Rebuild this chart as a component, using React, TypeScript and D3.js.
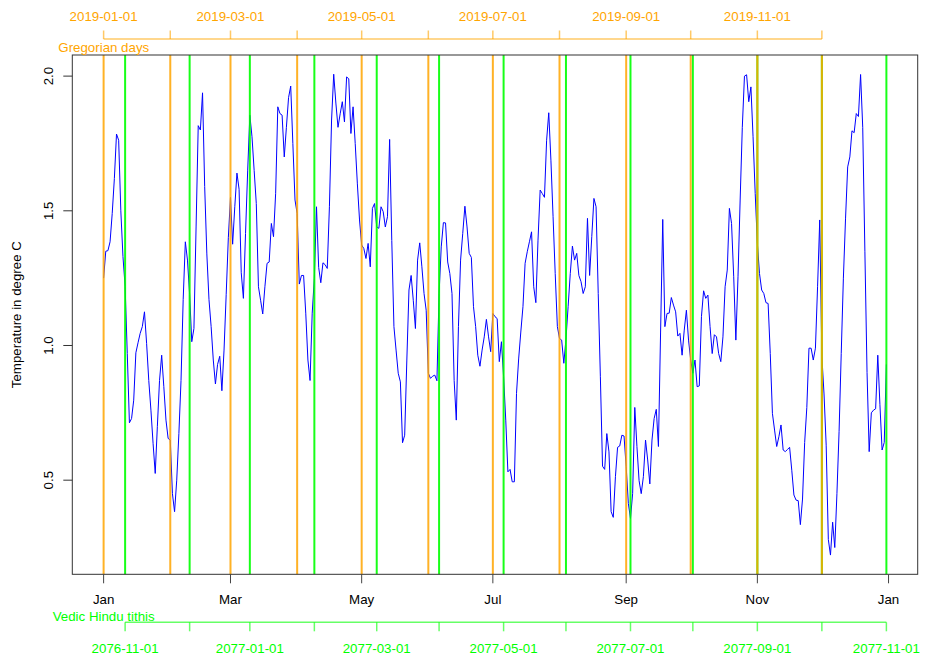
import React from "react";
import * as d3 from "d3";

// Daily temperature values (degree C), 2019-01-01 .. 2019-12-31
const temps: number[] = [
  1.25, 1.35, 1.352, 1.385, 1.49, 1.62, 1.785, 1.762, 1.5, 1.33,
  1.22, 0.97, 0.713, 0.729, 0.797, 0.973, 1.01, 1.045, 1.07, 1.125,
  1.007, 0.87, 0.76, 0.637, 0.525, 0.7, 0.87, 0.964, 0.847, 0.723,
  0.655, 0.649, 0.45, 0.383, 0.5, 0.673, 0.87, 1.17, 1.385, 1.317,
  1.19, 1.014, 1.063, 1.44, 1.816, 1.8, 1.938, 1.59, 1.34, 1.17,
  1.07, 0.946, 0.857, 0.93, 0.96, 0.832, 0.983, 1.19, 1.4, 1.55,
  1.376, 1.515, 1.64, 1.58, 1.27, 1.175, 1.416, 1.651, 1.855, 1.775,
  1.65, 1.527, 1.218, 1.168, 1.117, 1.218, 1.305, 1.31, 1.453, 1.404,
  1.565, 1.886, 1.861, 1.855, 1.7, 1.81, 1.92, 1.963, 1.75, 1.54,
  1.49, 1.228, 1.26, 1.26, 1.12, 0.946, 0.87, 1.12, 1.25, 1.515,
  1.29, 1.233, 1.307, 1.3, 1.286, 1.515, 1.837, 2.007, 1.9, 1.81,
  1.86, 1.905, 1.83, 1.997, 1.99, 1.787, 1.886, 1.75, 1.6, 1.466,
  1.373, 1.36, 1.323, 1.379, 1.292, 1.509, 1.527, 1.44, 1.435, 1.515,
  1.497, 1.44, 1.478, 1.765, 1.39, 1.07, 0.983, 0.897, 0.865, 0.639,
  0.667, 0.946, 1.206, 1.26, 1.168, 1.063, 1.317, 1.381, 1.292, 1.193,
  1.131, 0.897, 0.878, 0.886, 0.89, 0.869, 1.193, 1.366, 1.456, 1.455,
  1.31, 1.267, 1.193, 0.87, 0.723, 1.07, 1.317, 1.416, 1.517, 1.44,
  1.342, 1.327, 1.144, 1.07, 0.964, 0.923, 0.983, 1.032, 1.097, 1.032,
  0.977, 1.119, 1.107, 1.1, 0.94, 1.014, 0.884, 0.723, 0.531, 0.54,
  0.494, 0.494, 0.822, 0.95, 1.05, 1.144, 1.305, 1.348, 1.385, 1.422,
  1.218, 1.159, 1.391, 1.577, 1.564, 1.55, 1.762, 1.864, 1.688, 1.478,
  1.267, 1.07, 1.026, 1.02, 0.934, 1.023, 1.144, 1.267, 1.369, 1.317,
  1.342, 1.26, 1.237, 1.193, 1.218, 1.472, 1.26, 1.404, 1.546, 1.515,
  1.193, 0.884, 0.552, 0.54, 0.673, 0.605, 0.383, 0.362, 0.513, 0.622,
  0.627, 0.667, 0.664, 0.55, 0.414, 0.358, 0.45, 0.77, 0.625, 0.498,
  0.45, 0.513, 0.649, 0.575, 0.486, 0.649, 0.729, 0.763, 0.625, 1.05,
  1.468, 1.07, 1.119, 1.12, 1.178, 1.15, 1.125, 1.035, 1.045, 0.964,
  1.057, 1.131, 1.02, 0.946, 0.897, 0.946, 0.847, 0.85, 1.107, 1.203,
  1.175, 1.187, 1.07, 0.97, 1.04, 1.032, 0.97, 0.94, 1.032, 1.218,
  1.28, 1.509, 1.453, 1.255, 1.02, 1.255, 1.54, 1.81, 2.0, 2.005,
  1.905, 1.96, 1.775, 1.564, 1.379, 1.267, 1.206, 1.193, 1.159, 1.156,
  0.97, 0.748, 0.686, 0.625, 0.661, 0.705, 0.612, 0.606, 0.614, 0.622,
  0.537, 0.445, 0.426, 0.424, 0.335, 0.43, 0.64, 0.77, 0.99, 0.99,
  0.946, 0.99, 1.218, 1.466, 0.96, 0.82, 0.63, 0.28, 0.222, 0.344,
  0.25, 0.45, 0.68, 0.97, 1.25, 1.47, 1.663, 1.7, 1.797, 1.79,
  1.861, 1.85, 2.006, 1.81, 1.35, 0.9, 0.606, 0.75, 0.76, 0.765,
  0.964, 0.78, 0.612, 0.64, 0.93,
];
const startDate = "2019-01-01";

// Gregorian month starts (top axis + orange lines)
const gregTickDates = [
  "2019-01-01", "2019-02-01", "2019-03-01", "2019-04-01", "2019-05-01", "2019-06-01",
  "2019-07-01", "2019-08-01", "2019-09-01", "2019-10-01", "2019-11-01", "2019-12-01",
];
const gregTickLabels = [
  "2019-01-01", "", "2019-03-01", "", "2019-05-01", "",
  "2019-07-01", "", "2019-09-01", "", "2019-11-01", "",
];

// Vedic Hindu tithi month starts (Gregorian equivalents) (bottom axis + green lines)
const vedicTickDates = [
  "2019-01-11", "2019-02-10", "2019-03-10", "2019-04-09", "2019-05-08", "2019-06-06",
  "2019-07-06", "2019-08-04", "2019-09-03", "2019-10-02", "2019-11-01", "2019-12-01",
  "2019-12-31",
];
const vedicTickLabels = [
  "2076-11-01", "", "2077-01-01", "", "2077-03-01", "", "2077-05-01", "",
  "2077-07-01", "", "2077-09-01", "", "2077-11-01",
];

// Bottom month axis
const monthTickDates = [
  "2019-01-01", "2019-03-01", "2019-05-01", "2019-07-01", "2019-09-01", "2019-11-01", "2020-01-01",
];
const monthTickLabels = ["Jan", "Mar", "May", "Jul", "Sep", "Nov", "Jan"];

const yTicks = [0.5, 1.0, 1.5, 2.0];
const yTitle = "Temperature in degree C";
const topTitle = "Gregorian days";
const bottomTitle = "Vedic Hindu tithis";

const W = 927;
const H = 659;
const left = 72.3;
const right = 917.7;
const top = 55;
const bottom = 574.3;
const FONT = "'Liberation Sans', Arial, Helvetica, sans-serif";
const FS = 13.3;

const parse = (s: string) => {
  const [y, m, d] = s.split("-").map(Number);
  return new Date(Date.UTC(y, m - 1, d));
};
const t0 = parse(startDate);
const dayOf = (s: string) => d3.utcDay.count(t0, parse(s));

export default function App() {
  const n = temps.length;
  const xPad = (n - 1) * 0.04;
  const x = d3.scaleLinear().domain([-xPad, n - 1 + xPad]).range([left, right]);
  const [ymin, ymax] = d3.extent(temps) as [number, number];
  const yPad = (ymax - ymin) * 0.04;
  const y = d3.scaleLinear().domain([ymin - yPad, ymax + yPad]).range([bottom, top]);

  const line = d3
    .line<number>()
    .x((_, i) => x(i))
    .y((d) => y(d));

  const gregX = gregTickDates.map((d) => x(dayOf(d)));
  const vedicX = vedicTickDates.map((d) => x(dayOf(d)));
  const monthX = monthTickDates.map((d) => x(dayOf(d)));

  const topAxisY = 39;
  const botAxisY = 622.3;
  const orange = "#FFA500";
  const green = "#00FF00";

  return (
    <svg
      width={W}
      height={H}
      style={{ position: "fixed", left: 0, top: 0, background: "#fff" }}
      fontFamily={FONT}
      fontSize={FS}
    >
      <rect x={0} y={0} width={W} height={H} fill="#fff" />
      {/* data line */}
      <path d={line(temps) || ""} fill="none" stroke="#0000FF" strokeWidth={1} />
      {/* green tithi lines */}
      {vedicX.map((vx, i) => (
        <line key={"vg" + i} x1={vx} x2={vx} y1={top} y2={bottom} stroke={green} strokeWidth={2} opacity={0.9} />
      ))}
      {/* orange month lines */}
      {gregX.map((gx, i) => (
        <line key={"go" + i} x1={gx} x2={gx} y1={top} y2={bottom} stroke={orange} strokeWidth={2} opacity={0.85} />
      ))}
      {/* frame */}
      <rect x={left} y={top} width={right - left} height={bottom - top} fill="none" stroke="#333" strokeWidth={1} />

      {/* y axis */}
      {yTicks.map((v) => (
        <g key={"y" + v}>
          <line x1={left - 9} x2={left} y1={y(v)} y2={y(v)} stroke="#333" strokeWidth={1} />
          <text transform={`translate(53,${y(v)}) rotate(-90)`} textAnchor="middle" fill="#000">
            {v.toFixed(1)}
          </text>
        </g>
      ))}
      <text transform={`translate(21,${(top + bottom) / 2}) rotate(-90)`} textAnchor="middle" fill="#000">
        {yTitle}
      </text>

      {/* bottom month axis */}
      {monthX.map((mx, i) => (
        <g key={"m" + i}>
          <line x1={mx} x2={mx} y1={bottom} y2={bottom + 9} stroke="#444" strokeWidth={1} />
          <text x={mx} y={604} textAnchor="middle" fill="#000">
            {monthTickLabels[i]}
          </text>
        </g>
      ))}

      {/* top Gregorian axis */}
      <line x1={gregX[0]} x2={gregX[gregX.length - 1]} y1={topAxisY} y2={topAxisY} stroke={orange} strokeOpacity={0.6} strokeWidth={1.5} />
      {gregX.map((gx, i) => (
        <g key={"gt" + i}>
          <line x1={gx} x2={gx} y1={topAxisY} y2={topAxisY - 8.5} stroke={orange} strokeOpacity={0.6} strokeWidth={1.5} />
          {gregTickLabels[i] && (
            <text x={gx} y={20.6} textAnchor="middle" fill={orange}>
              {gregTickLabels[i]}
            </text>
          )}
        </g>
      ))}
      <text x={58.3} y={51.5} fill={orange}>
        {topTitle}
      </text>

      {/* bottom Vedic axis */}
      <line x1={vedicX[0]} x2={vedicX[vedicX.length - 1]} y1={botAxisY} y2={botAxisY} stroke={green} strokeOpacity={0.6} strokeWidth={1.5} />
      {vedicX.map((vx, i) => (
        <g key={"vt" + i}>
          <line x1={vx} x2={vx} y1={botAxisY} y2={botAxisY + 9} stroke={green} strokeOpacity={0.6} strokeWidth={1.5} />
          {vedicTickLabels[i] && (
            <text x={vx} y={653} textAnchor="middle" fill={green}>
              {vedicTickLabels[i]}
            </text>
          )}
        </g>
      ))}
      <text x={52.7} y={620.8} fill={green}>
        {bottomTitle}
      </text>
    </svg>
  );
}
